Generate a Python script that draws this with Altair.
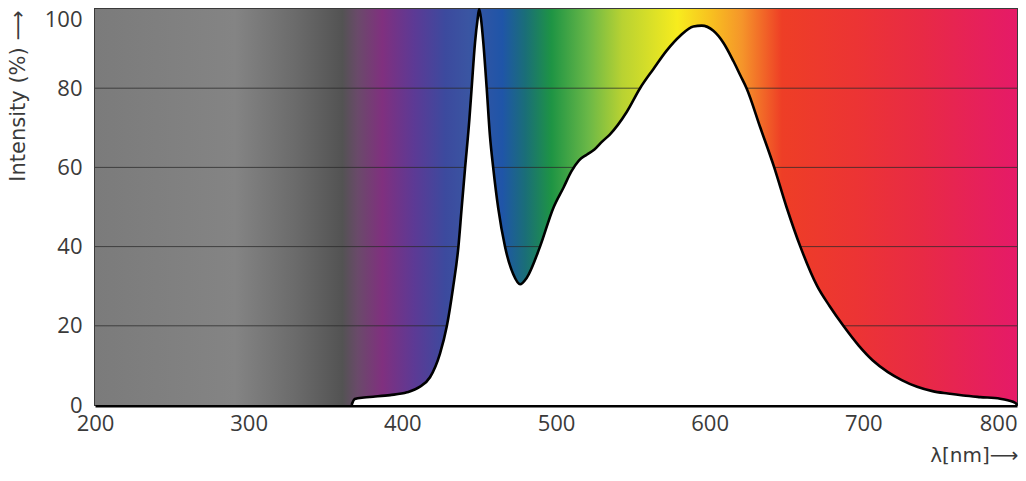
import altair as alt
import pandas as pd

# ---- data ----
wavelength = [367, 369, 375, 381, 392, 403, 411, 418, 424.5, 429, 433, 436.5, 438.6, 440.8,
              443.6, 445.1, 447.3, 449, 450, 451.2, 452.7, 454.9, 457, 459.2, 462.4, 466.8,
              472.2, 476.6, 480.9, 489.6, 498.2, 505, 510, 515, 520, 525, 530, 535, 546,
              554.7, 563.3, 572, 580.7, 589.4, 594.8, 602.4, 608.9, 615.5, 620, 624, 633,
              642, 650, 659, 670, 678, 687, 697, 706, 716, 725, 735, 745, 755,
              765, 776, 789, 794, 799, 800]
intensity = [0, 1.5, 1.9, 2.1, 2.5, 3.2, 4.5, 7, 13, 20, 29.6, 40, 49.7, 59.7,
             72, 80, 91.5, 97.5, 100, 97.5, 91.5, 80, 68, 59.7, 49.7, 40,
             33, 30.5, 32.1, 40, 49.7, 55, 59, 61.8, 63.2, 64.5, 66.5, 68.3, 74,
             80, 84.8, 89.5, 93.2, 95.6, 95.8, 94.5, 91.5, 86.8, 83.2, 80, 70,
             60, 50, 40, 30, 25, 20, 15, 11.3, 8.3, 6.3, 4.6, 3.5, 2.9,
             2.4, 2.0, 1.6, 1.2, 0.5, 0]

grad_nm = [200, 291, 330, 361, 371, 387, 408, 428, 443, 465, 480, 497, 521, 543,
           579, 601, 621, 647, 695, 738, 800]
grad_colors = ["#7b7b7b", "#848484", "#6b6b6b", "#535353", "#6a4a6a", "#80307f", "#5c3a95",
               "#3c4a9e", "#3a55a2", "#1f55a8", "#1a6e78", "#1e9444", "#6ab847", "#b8d232",
               "#f7ec1e", "#f8c020", "#f5952a", "#ee3e26", "#ec3434", "#e82a45", "#e51a68"]

grid_values = [20, 40, 60, 80]
x_ticks = [200, 300, 400, 500, 600, 700, 800]
y_ticks = [0, 20, 40, 60, 80, 100]
x_range = [200, 800]
y_range = [0, 100]

W, H = 922, 396
FONT = "Open Sans"
TITLE_FONT = "DejaVu Sans"

xscale = alt.Scale(domain=x_range, nice=False)
yscale = alt.Scale(domain=y_range, nice=False)

x_axis = alt.Axis(values=x_ticks, ticks=False, grid=False, domainColor="black",
                  domainWidth=4, labelPadding=8, labelFontSize=22,
                  labelAlign={"expr": "datum.value == 800 ? 'right' : 'center'"},
                  title="λ[nm]⟶", titleFontSize=20, titleFontWeight="normal",
                  titleX=W + 1, titleY=50, titleAlign="right", titleBaseline="middle")
y_axis = alt.Axis(values=y_ticks, ticks=False, grid=False, domain=False,
                  labelPadding=13, labelFontSize=22,
                  labelBaseline={"expr": "datum.value == 100 ? 'top' : 'middle'"},
                  title="Intensity (%) ⟶", titleFontSize=21, titleFontWeight="normal",
                  titleX=-77, titleY=1, titleAlign="right", titleBaseline="middle",
                  titleAngle=270)

span = x_range[1] - x_range[0]
stops = [alt.GradientStop(offset=(n - x_range[0]) / span, color=c)
         for n, c in zip(grad_nm, grad_colors)]

bg_df = pd.DataFrame({"x": [x_range[0]], "x2": [x_range[1]],
                      "y": [y_range[0]], "y2": [y_range[1]]})
bg = alt.Chart(bg_df).mark_rect(
    fill=alt.Gradient(gradient="linear", stops=stops, x1=0, x2=1, y1=0, y2=0)
).encode(
    x=alt.X("x:Q", scale=xscale, axis=x_axis),
    x2="x2:Q",
    y=alt.Y("y:Q", scale=yscale, axis=y_axis),
    y2="y2:Q",
)

grid = alt.Chart(pd.DataFrame({"v": grid_values})).mark_rule(
    color="#2a2a2a", strokeWidth=1, opacity=0.75
).encode(y=alt.Y("v:Q", scale=yscale, axis=y_axis))

spec_df = pd.DataFrame({"x": wavelength, "y": intensity})
area = alt.Chart(spec_df).mark_area(
    fill="white", opacity=1, fillOpacity=1, interpolate="monotone",
    line={"color": "black", "strokeWidth": 2.6}
).encode(
    x=alt.X("x:Q", scale=xscale, axis=x_axis),
    y=alt.Y("y:Q", scale=yscale, axis=y_axis),
)

chart = alt.layer(bg, grid, area).properties(
    width=W, height=H,
    autosize=alt.AutoSizeParams(type="none"),
    padding={"left": 87, "top": 1, "right": 1, "bottom": 60},
).configure_view(
    stroke="#3a3a3a", strokeWidth=2
).configure_axis(
    labelFont=FONT, titleFont=TITLE_FONT, labelColor="#3a3a3a", titleColor="#3a3a3a"
)

chart.save("out.html", embed_options={"renderer": "svg", "actions": False})
